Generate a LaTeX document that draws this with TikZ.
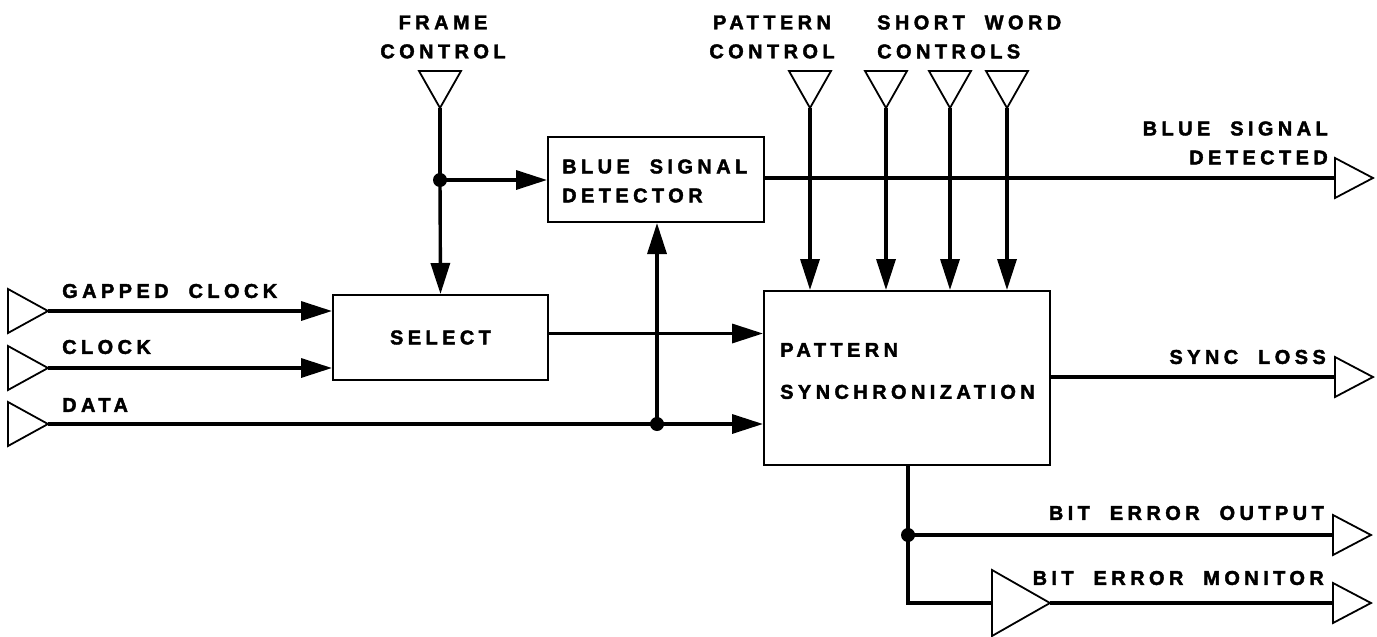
\documentclass[tikz,border=0pt]{standalone}
\usepackage{fontspec}
\setmainfont{Liberation Sans}[LetterSpace=22,WordSpace=2,BoldFeatures={FakeBold=2}]
\usetikzlibrary{arrows.meta}
\begin{document}
\begin{tikzpicture}[x=1pt,y=-1pt,
  wire/.style={line width=3.4pt},
  arr/.style={wire,-{Triangle[length=31pt,width=19pt]}},
  box/.style={draw,line width=2pt,inner sep=0pt},
  lab/.style={font=\fontsize{20}{29}\selectfont\bfseries,inner sep=0pt},
  tri/.style={line width=1.8pt,line join=miter},
  dot/.style={circle,fill,inner sep=0pt,minimum size=14pt}]
\useasboundingbox (0,0) rectangle (1377,637);
% boxes
\node[box,minimum width=215pt,minimum height=85pt] (sel) at (440.5,337.5) {};
\node[lab] (selt) at (sel.center) {SELECT};
\node[box,minimum width=216pt,minimum height=85pt] (bsd) at (656,179.5) {};
\node[lab,anchor=west,align=left] (bsdt) at (562,181) {BLUE SIGNAL\\DETECTOR};
\node[box,minimum width=286pt,minimum height=174pt] (ps) at (907,378) {};
\node[lab,anchor=west,align=left,font=\fontsize{20}{42}\selectfont\bfseries] (pst) at (780,371) {PATTERN\\SYNCHRONIZATION};
% input triangles (left)
\coordinate (gc) at (48,311);
\coordinate (ck) at (48,368);
\coordinate (dt) at (48,424);
\foreach \c in {gc,ck,dt} \draw[tri] (\c) -- ++(-40,-22) -- ++(0,44) -- cycle;
% top triangles
\coordinate (fc) at (440,108);
\coordinate (pc) at (810,108);
\coordinate (sw1) at (886,108);
\coordinate (sw2) at (950,108);
\coordinate (sw3) at (1007,108);
\foreach \c in {fc,pc,sw1,sw2,sw3} \draw[tri] (\c) -- ++(-21,-37) -- ++(42,0) -- cycle;
% output triangles (right)
\coordinate (bsdo) at (1335,178);
\coordinate (synco) at (1335,377);
\coordinate (beo) at (1333,535);
\coordinate (bem) at (1333,603);
\foreach \c in {bsdo,synco,beo,bem} \draw[tri] (\c) -- ++(0,-20) -- ++(38,20) -- ++(-38,20) -- cycle;
% buffer
\coordinate (buf) at (992,603);
\coordinate (buft) at (1050,603);
\draw[tri] (buf) -- ++(0,-33) -- (buft) -- ++(-58,33) -- cycle;
% junctions
\node[dot] (j1) at (440,180) {};
\node[dot] (j2) at (657,424) {};
\node[dot] (j3) at (908,535) {};
% connectors
\coordinate (selo) at ([yshift=4pt]sel.east);
\draw[arr] (gc) -- (sel.west |- gc);
\draw[arr] (ck) -- (sel.west |- ck);
\draw[wire] (dt) -- (j2.center);
\draw[arr] (j2.center) -- (ps.west |- j2);
\draw[arr] (j2.center) -- (bsd.south -| j2);
\draw[arr] (selo) -- (ps.west |- selo);
\draw[wire] (fc) -- (j1.center);
\draw[arr] (j1.center) -- (sel.north);
\draw[arr] (j1.center) -- (bsd.west |- j1);
\draw[wire] (bsd.east |- bsdo) -- (bsdo);
\foreach \c in {pc,sw1,sw2,sw3} \draw[arr] (\c) -- (ps.north -| \c);
\draw[wire] (ps.east |- synco) -- (synco);
\draw[wire] (ps.south -| j3) -- (j3.center);
\draw[wire] (j3.center) -- (beo);
\draw[wire] (j3.center) |- (buf);
\draw[wire] (buft) -- (bem);
% labels
\node[lab,anchor=west] (lgc) at (62,291) {GAPPED CLOCK};
\node[lab,anchor=west] (lck) at (62,347) {CLOCK};
\node[lab,anchor=west] (ldt) at (62,405) {DATA};
\node[lab,align=center] (lfc) at (443,37) {FRAME\\CONTROL};
\node[lab,align=center] (lpc) at (772,37) {PATTERN\\CONTROL};
\node[lab,anchor=west,align=left] (lsw) at (877,37) {SHORT WORD\\CONTROLS};
\node[lab,anchor=east,align=right] (lbsd) at (1328,143) {BLUE SIGNAL\\DETECTED};
\node[lab,anchor=east] (lsync) at (1326,357) {SYNC LOSS};
\node[lab,anchor=east] (lbeo) at (1324,513) {BIT ERROR OUTPUT};
\node[lab,anchor=east] (lbem) at (1324,578) {BIT ERROR MONITOR};
\end{tikzpicture}
\end{document}
